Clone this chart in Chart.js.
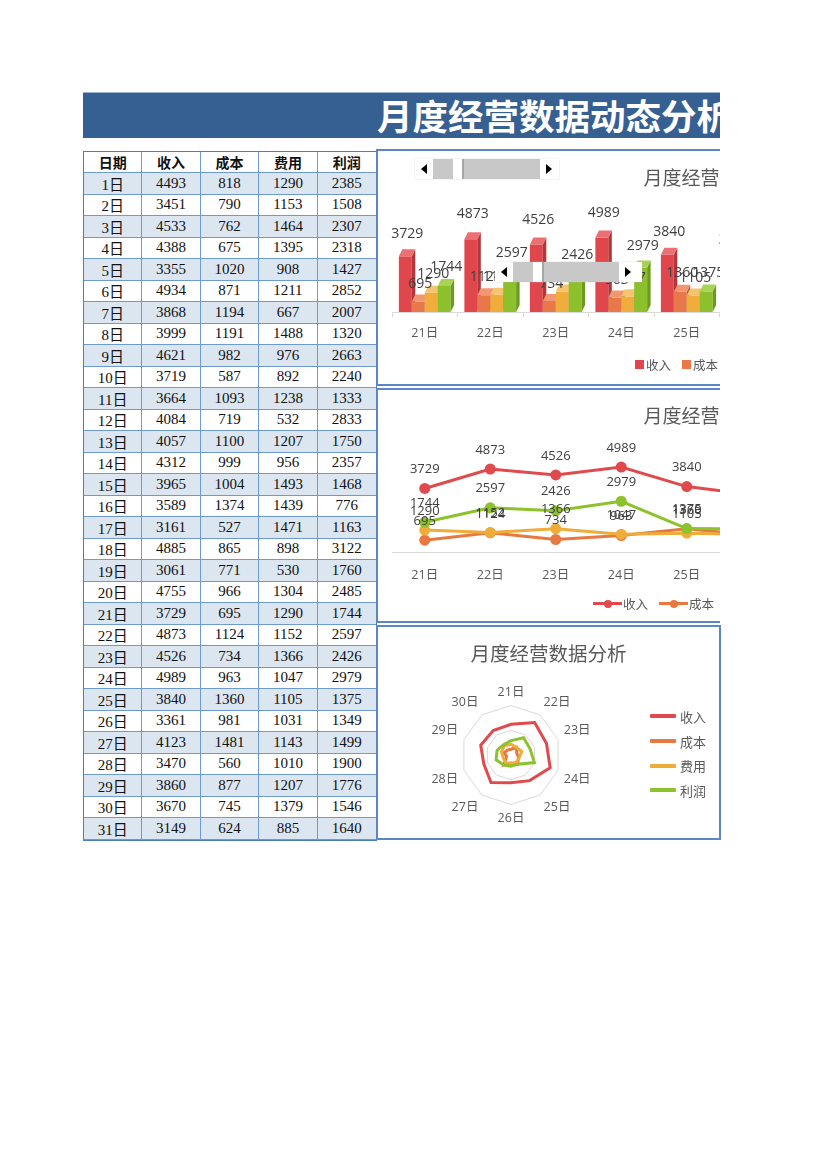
<!DOCTYPE html>
<html lang="zh-CN">
<head>
<meta charset="utf-8">
<title>月度经营数据动态分析</title>
<script src="https://cdn.jsdelivr.net/npm/chart.js@4.4.1/dist/chart.umd.min.js"></script>
<style>
  html, body { margin: 0; padding: 0; background: #fff; }
  body { width: 827px; height: 1170px; position: relative; overflow: hidden;
         font-family: "Noto Sans CJK SC", "Noto Sans", sans-serif; }
  #banner { position: absolute; left: 83px; top: 92px; width: 637px; height: 46px;
            background: #376092; border-top: 1px solid #9db3d3; box-sizing: border-box; overflow: hidden; }
  #banner span { position: absolute; left: 294px; top: 0; line-height: 44px; font-size: 35.5px;
                 font-weight: bold; color: #fff; white-space: nowrap; }
  #sheet { position: absolute; left: 83px; top: 151px; display: grid;
           grid-template-columns: repeat(5, 1fr); grid-template-rows: 21px repeat(31, 21.5px);
           border: 1px solid #4a7ebb; box-sizing: content-box; width: 292px; }
  #sheet div { border-right: 1px solid #6d9ad3; border-bottom: 1px solid #6d9ad3; box-sizing: border-box;
               display: flex; align-items: center; justify-content: center;
               font-family: "Liberation Serif", "Noto Sans CJK SC", serif; font-size: 15px; color: #111; }
  #sheet div.last { border-right: none; }
  #sheet div.hd { font-family: "Noto Sans CJK SC", sans-serif; font-weight: bold; font-size: 14px; }
  #sheet div.band { background: #dce6f1; }
  .frame { position: absolute; overflow: hidden; box-sizing: border-box; border: 2px solid #5b87c5; background: #fff; }
  .frame canvas { position: absolute; left: 0; top: 0; }
  #barFrame { left: 376px; top: 149px; width: 344px; height: 237px; border-right: none; }
  #lineFrame { left: 376px; top: 388px; width: 344px; height: 235px; border-right: none; }
  #radarFrame { left: 376px; top: 625px; width: 345px; height: 215px; }
  .legend { position: absolute; display: flex; align-items: center; font-size: 12.5px; color: #595959; white-space: nowrap; }
  .legend .item { display: flex; align-items: center; margin-right: 11px; }
  .sq { width: 9px; height: 9px; margin-right: 2px; }
  .lm { position: relative; width: 29px; height: 8px; margin-right: 1px; }
  .lm i { position: absolute; left: 0; right: 0; top: 2.5px; height: 3px; }
  .lm b { position: absolute; left: 10.5px; top: 0; width: 8px; height: 8px; border-radius: 50%; }
  #radarLegend { position: absolute; left: 272px; top: 77px; font-size: 13px; color: #595959; }
  #radarLegend .row { display: flex; align-items: center; height: 24.7px; }
  #radarLegend .row i { width: 26px; height: 4px; margin-right: 4px; border-radius: 1px; }
  #radarTitle { position: absolute; left: 0; width: 341px; top: 12px; text-align: center;
                font-size: 19.5px; line-height: 28px; color: #595959; }
  .sb { position: absolute; height: 20px; background: #fff; box-shadow: 0 0 1px #bbb; }
  .sb .track { position: absolute; top: 0; height: 20px; background: #c8c8c8; }
  .sb .thumb { position: absolute; top: 0; height: 20px; width: 9px; background: #fff; border-right: 2px solid #a6a6a6; }
  .sb .al, .sb .ar { position: absolute; top: 5px; width: 0; height: 0;
                     border-top: 5px solid transparent; border-bottom: 5px solid transparent; }
  .sb .al { border-right: 6px solid #000; }
  .sb .ar { border-left: 6px solid #000; }
</style>
</head>
<body>
<div id="banner"><span>月度经营数据动态分析表</span></div>
<div id="sheet"></div>

<div class="frame" id="barFrame">
  <canvas id="barChart" width="690" height="233"></canvas>
  <div class="legend" id="barLegend" style="left:257px; top:204px;"></div>
</div>
<div class="frame" id="lineFrame">
  <canvas id="lineChart" width="690" height="231"></canvas>
  <div class="legend" id="lineLegend" style="left:215px; top:204px;"></div>
</div>
<div class="frame" id="radarFrame">
  <div id="radarTitle">月度经营数据分析</div>
  <canvas id="radarChart" width="341" height="211"></canvas>
  <div id="radarLegend"></div>
</div>

<script>
// data from the sheet
const headers = ['日期', '收入', '成本', '费用', '利润'];
const days = ['1日', '2日', '3日', '4日', '5日', '6日', '7日', '8日', '9日', '10日',
  '11日', '12日', '13日', '14日', '15日', '16日', '17日', '18日', '19日', '20日',
  '21日', '22日', '23日', '24日', '25日', '26日', '27日', '28日', '29日', '30日', '31日'];
const revenue = [4493, 3451, 4533, 4388, 3355, 4934, 3868, 3999, 4621, 3719,
  3664, 4084, 4057, 4312, 3965, 3589, 3161, 4885, 3061, 4755,
  3729, 4873, 4526, 4989, 3840, 3361, 4123, 3470, 3860, 3670, 3149];
const cost = [818, 790, 762, 675, 1020, 871, 1194, 1191, 982, 587,
  1093, 719, 1100, 999, 1004, 1374, 527, 865, 771, 966,
  695, 1124, 734, 963, 1360, 981, 1481, 560, 877, 745, 624];
const expense = [1290, 1153, 1464, 1395, 908, 1211, 667, 1488, 976, 892,
  1238, 532, 1207, 956, 1493, 1439, 1471, 898, 530, 1304,
  1290, 1152, 1366, 1047, 1105, 1031, 1143, 1010, 1207, 1379, 885];
const profit = [2385, 1508, 2307, 2318, 1427, 2852, 2007, 1320, 2663, 2240,
  1333, 2833, 1750, 2357, 1468, 776, 1163, 3122, 1760, 2485,
  1744, 2597, 2426, 2979, 1375, 1349, 1499, 1900, 1776, 1546, 1640];

// the charts show the 10-day window picked by the scroll bar
const winStart = 20, winEnd = 30;
const chartTitle = '月度经营数据分析';

const seriesNames = headers.slice(1);
const seriesData = [revenue, cost, expense, profit];
const barFront = ['#e0474c', '#e8784a', '#f0ad3c', '#8cc02c'];
const barTop = ['#eb7074', '#f09670', '#f6c46c', '#a9d354'];
const barSide = ['#b3363a', '#bb5c35', '#c88b27', '#6d991f'];
const lineColors = ['#e04a4c', '#e8783f', '#f0ac3a', '#8cc22c'];

// table
const sheet = document.getElementById('sheet');
function cell(text, cls) {
  const d = document.createElement('div');
  d.textContent = text;
  if (cls) d.className = cls;
  sheet.appendChild(d);
}
headers.forEach((h, c) => cell(h, 'hd' + (c === 4 ? ' last' : '')));
days.forEach((day, r) => {
  const band = r % 2 === 0 ? 'band' : '';
  const row = [day, revenue[r], cost[r], expense[r], profit[r]];
  row.forEach((v, c) => cell(String(v), band + (c === 4 ? ' last' : '')));
});

// legends
const barLegend = document.getElementById('barLegend');
const lineLegend = document.getElementById('lineLegend');
const radarLegend = document.getElementById('radarLegend');
seriesNames.forEach((name, i) => {
  barLegend.insertAdjacentHTML('beforeend',
    `<span class="item"><span class="sq" style="background:${barFront[i]}"></span>${name}</span>`);
  lineLegend.insertAdjacentHTML('beforeend',
    `<span class="item"><span class="lm"><i style="background:${lineColors[i]}"></i><b style="background:${lineColors[i]}"></b></span>${name}</span>`);
  radarLegend.insertAdjacentHTML('beforeend',
    `<div class="row"><i style="background:${lineColors[i]}"></i>${name}</div>`);
});

// scroll bar controls laid over the bar chart
function scrollBar(x, y, w, rightW) {
  const el = document.createElement('div');
  el.className = 'sb';
  el.style.left = x + 'px'; el.style.top = y + 'px'; el.style.width = w + 'px';
  const trackW = w - 18 - rightW;
  el.innerHTML = `<span class="al" style="left:6px"></span>
    <span class="track" style="left:18px;width:${trackW}px"></span>
    <span class="thumb" style="left:38px"></span>
    <span class="ar" style="left:${18 + trackW + 6}px"></span>`;
  document.body.appendChild(el);
}
scrollBar(415, 159, 144, 19);
scrollBar(495, 262, 147, 23);

Chart.defaults.font.family = '"Open Sans", "Noto Sans CJK SC", sans-serif';
Chart.defaults.color = '#595959';

const labels = days.slice(winStart, winEnd);
const DX = 3.5, DY = 7;

const bar3d = {
  id: 'bar3d',
  afterDatasetsDraw(chart) {
    const ctx = chart.ctx;
    ctx.save();
    const n = chart.data.labels.length;
    for (let i = 0; i < n; i++) {
      chart.data.datasets.forEach((ds, d) => {
        const p = chart.getDatasetMeta(d).data[i].getProps(['x', 'y', 'base', 'width'], true);
        const l = p.x - p.width / 2, r = p.x + p.width / 2;
        ctx.fillStyle = barFront[d];
        ctx.fillRect(l, p.y, p.width, p.base - p.y);
        ctx.fillStyle = barSide[d];
        ctx.beginPath();
        ctx.moveTo(r, p.y); ctx.lineTo(r + DX, p.y - DY);
        ctx.lineTo(r + DX, p.base - DY); ctx.lineTo(r, p.base);
        ctx.closePath(); ctx.fill();
        ctx.fillStyle = barTop[d];
        ctx.beginPath();
        ctx.moveTo(l, p.y); ctx.lineTo(l + DX, p.y - DY);
        ctx.lineTo(r + DX, p.y - DY); ctx.lineTo(r, p.y);
        ctx.closePath(); ctx.fill();
      });
    }
    // value labels
    ctx.font = '14px "Open Sans", "Noto Sans CJK SC", sans-serif';
    ctx.fillStyle = '#404040';
    ctx.textAlign = 'center';
    ctx.textBaseline = 'middle';
    chart.data.datasets.forEach((ds, d) => {
      chart.getDatasetMeta(d).data.forEach((el, i) => {
        const p = el.getProps(['x', 'y', 'base'], true);
        ctx.fillText(String(ds.data[i]), p.x + 2, p.y - 16 - (p.base - p.y) * 0.12);
      });
    });
    ctx.restore();
  }
};

const pointLabels = {
  id: 'pointLabels',
  afterDatasetsDraw(chart) {
    const ctx = chart.ctx;
    ctx.save();
    ctx.font = '13px "Open Sans", "Noto Sans CJK SC", sans-serif';
    ctx.fillStyle = '#404040';
    ctx.textAlign = 'center';
    ctx.textBaseline = 'middle';
    chart.data.datasets.forEach((ds, d) => {
      chart.getDatasetMeta(d).data.forEach((el, i) => {
        const p = el.getProps(['x', 'y'], true);
        ctx.fillText(String(ds.data[i]), p.x, p.y - 19);
      });
    });
    ctx.restore();
  }
};

// 3D clustered columns
new Chart(document.getElementById('barChart'), {
  type: 'bar',
  data: {
    labels: labels,
    datasets: seriesNames.map((name, i) => ({
      label: name,
      data: seriesData[i].slice(winStart, winEnd),
      backgroundColor: 'rgba(0,0,0,0)',
      borderWidth: 0,
      categoryPercentage: 0.79,
      barPercentage: 1
    }))
  },
  options: {
    responsive: false,
    animation: false,
    layout: { padding: { left: 14, right: 21, top: 0, bottom: 34 } },
    plugins: {
      legend: { display: false },
      tooltip: { enabled: false },
      title: { display: true, text: chartTitle, color: '#595959',
               font: { size: 19, weight: 'normal' }, padding: { top: 17, bottom: 31.6 } }
    },
    scales: {
      x: {
        grid: { drawOnChartArea: false, drawTicks: true, tickLength: 5, color: '#d9d9d9' },
        border: { color: '#d9d9d9' },
        ticks: { padding: 9, color: '#595959', font: { size: 12.5 } }
      },
      y: { display: false, min: 0, max: 6000 }
    }
  },
  plugins: [bar3d]
});

// line chart
new Chart(document.getElementById('lineChart'), {
  type: 'line',
  data: {
    labels: labels,
    datasets: seriesNames.map((name, i) => ({
      label: name,
      data: seriesData[i].slice(winStart, winEnd),
      borderColor: lineColors[i],
      backgroundColor: lineColors[i],
      pointBackgroundColor: lineColors[i],
      pointBorderColor: lineColors[i],
      borderWidth: 3,
      pointRadius: 5.5,
      pointBorderWidth: 0,
      tension: 0,
      order: 4 - i
    }))
  },
  options: {
    responsive: false,
    animation: false,
    layout: { padding: { left: 14, right: 21, top: 0, bottom: 22 } },
    plugins: {
      legend: { display: false },
      tooltip: { enabled: false },
      title: { display: true, text: chartTitle, color: '#595959',
               font: { size: 19, weight: 'normal' }, padding: { top: 16, bottom: 21 } }
    },
    scales: {
      x: {
        offset: true,
        grid: { drawOnChartArea: false, drawTicks: false, color: '#d9d9d9' },
        border: { color: '#d9d9d9' },
        ticks: { padding: 16, color: '#595959', font: { size: 12.5 } }
      },
      y: { display: false, min: 0, max: 6000 }
    }
  },
  plugins: [pointLabels]
});

// radar chart
new Chart(document.getElementById('radarChart'), {
  type: 'radar',
  data: {
    labels: labels,
    datasets: seriesNames.map((name, i) => ({
      label: name,
      data: seriesData[i].slice(winStart, winEnd),
      borderColor: lineColors[i],
      backgroundColor: 'rgba(0,0,0,0)',
      borderWidth: 3,
      pointRadius: 0,
      fill: false,
      order: 4 - i
    }))
  },
  options: {
    responsive: false,
    animation: false,
    layout: { padding: { left: 20, right: 94, top: 57.5, bottom: 12.5 } },
    plugins: { legend: { display: false }, tooltip: { enabled: false } },
    scales: {
      r: {
        min: 0, max: 6000,
        ticks: { display: false, stepSize: 3000 },
        grid: { color: '#d9d9d9' },
        angleLines: { display: false },
        pointLabels: { padding: 6, color: '#595959', font: { size: 12.5 } }
      }
    }
  }
});
</script>
</body>
</html>
